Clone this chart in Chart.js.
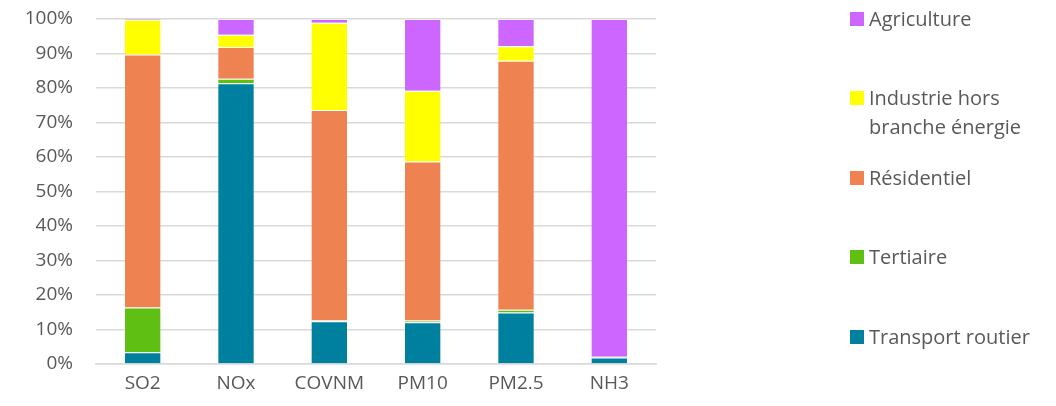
<!DOCTYPE html>
<html>
<head>
<meta charset="utf-8">
<script src="https://cdn.jsdelivr.net/npm/chart.js@4/dist/chart.umd.min.js"></script>
<style>
  html, body { margin: 0; padding: 0; background: #fff; }
  #wrap { width: 1056px; height: 406px; position: relative; }
</style>
</head>
<body>
<div id="wrap"><canvas id="chartEmissions"></canvas></div>
<script>
// polluants (axe x)
const polluants = ['SO2', 'NOx', 'COVNM', 'PM10', 'PM2.5', 'NH3'];

// parts par secteur en %
const transportRoutier = [3.4, 81.4, 12.4, 12.1, 14.9, 1.9];
const tertiaire        = [13.0, 1.3, 0.2, 0.5, 0.8, 0.1];
const residentiel      = [73.3, 9.2, 61.0, 46.1, 72.2, 0.1];
const industrie        = [10.1, 3.5, 25.3, 20.5, 4.2, 0.0];
const agriculture      = [0.2, 4.6, 1.1, 20.8, 7.9, 97.9];

const secteurs = ['Transport routier', 'Tertiaire', 'Résidentiel', 'Industrie hors branche énergie', 'Agriculture'];
const couleurs = ['#00809F', '#5FBF12', '#EE8251', '#FFFF00', '#CC66FF'];
const yTicks = [0, 10, 20, 30, 40, 50, 60, 70, 80, 90, 100];

const police = '"Open Sans", "Noto Sans", sans-serif';
const gris = '#595959';

// légende à droite, façon Excel (ordre inversé)
const legendeExcel = {
    id: 'legendeExcel',
    afterDraw(chart) {
        const ctx = chart.ctx;
        const centres = [19, 98, 178, 257, 337];
        const ds = chart.data.datasets.slice().reverse();
        ctx.save();
        ctx.font = '20px ' + police;
        ctx.textBaseline = 'middle';
        ds.forEach((d, i) => {
            const y = centres[i];
            ctx.fillStyle = d.backgroundColor;
            ctx.fillRect(850, y - 7, 14, 14);
            ctx.fillStyle = gris;
            // retour à la ligne si trop long
            const mots = d.label.split(' ');
            const lignes = [];
            let cur = '';
            mots.forEach(m => {
                const essai = cur ? cur + ' ' + m : m;
                if (ctx.measureText(essai).width > 180 && cur) {
                    lignes.push(cur);
                    cur = m;
                } else {
                    cur = essai;
                }
            });
            lignes.push(cur);
            lignes.forEach((l, k) => ctx.fillText(l, 869, y + 1 + k * 29));
        });
        ctx.restore();
    }
};

const ctx = document.getElementById('chartEmissions');
new Chart(ctx.getContext('2d'), {
    type: 'bar',
    data: {
        labels: polluants,
        datasets: [
            { label: secteurs[0], data: transportRoutier, backgroundColor: couleurs[0] },
            { label: secteurs[1], data: tertiaire, backgroundColor: couleurs[1] },
            { label: secteurs[2], data: residentiel, backgroundColor: couleurs[2] },
            { label: secteurs[3], data: industrie, backgroundColor: couleurs[3] },
            { label: secteurs[4], data: agriculture, backgroundColor: couleurs[4] }
        ].map(d => Object.assign(d, {
            borderColor: 'rgba(255,255,255,0.2)',
            borderWidth: 1,
            categoryPercentage: 1,
            barPercentage: 0.4
        }))
    },
    options: {
        responsive: true,
        maintainAspectRatio: false,
        animation: false,
        layout: { padding: { left: 0, right: 400, top: 19, bottom: 0 } },
        plugins: {
            legend: { display: false },
            tooltip: { enabled: false }
        },
        scales: {
            x: {
                stacked: true,
                grid: { display: false, drawTicks: false },
                border: { display: true, color: '#D9D9D9', width: 1.5 },
                ticks: { color: gris, font: { family: police, size: 19 }, padding: 8 },
                afterFit(s) { s.height = 42; }
            },
            y: {
                stacked: true,
                min: 0,
                max: 100,
                afterBuildTicks(s) { s.ticks = yTicks.map(v => ({ value: v })); },
                grid: { color: '#D9D9D9', lineWidth: 1.5, drawTicks: false },
                border: { display: false },
                ticks: {
                    color: gris,
                    font: { family: police, size: 19 },
                    padding: 23,
                    callback: v => v + '%'
                },
                afterFit(s) { s.width = 96; s.paddingTop = 0; s.paddingBottom = 0; }
            }
        }
    },
    plugins: [legendeExcel]
});
</script>
</body>
</html>
